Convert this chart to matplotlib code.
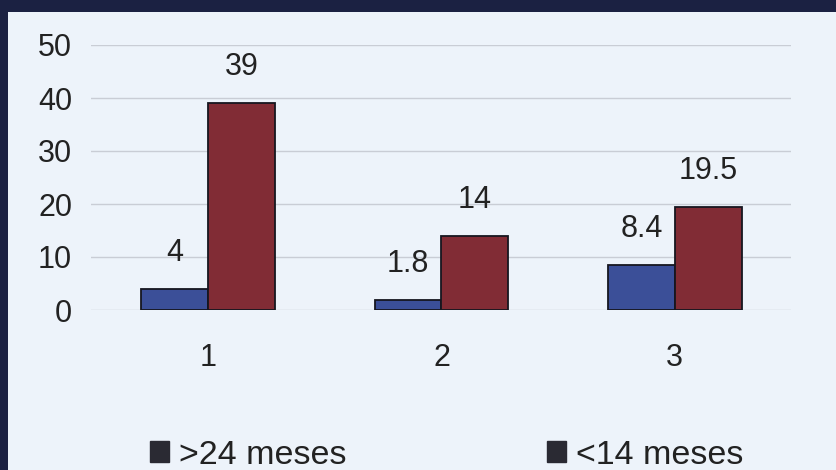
import matplotlib
matplotlib.use("Agg")
import matplotlib.pyplot as plt
from matplotlib.patches import Rectangle, Patch
import numpy as np

plt.rcParams['font.family'] = ['Liberation Sans', 'DejaVu Sans']

categories = ["1", "2", "3"]
series_names = [">24 meses", "<14 meses"]
over_24 = [4, 1.8, 8.4]
under_14 = [39, 14, 19.5]
value_labels_over = ["4", "1.8", "8.4"]
value_labels_under = ["39", "14", "19.5"]
y_ticks = [0, 10, 20, 30, 40, 50]

W, H, DPI = 837, 470, 100
fig = plt.figure(figsize=(W / DPI, H / DPI), dpi=DPI, facecolor="#1b2142")

# light slide panel inside the dark frame
panel = Rectangle((8 / W, 0), 1 - 8 / W, 1 - 12 / H, transform=fig.transFigure,
                  facecolor="#edf3fa", edgecolor="none", zorder=-10)
fig.patches.append(panel)

ax = fig.add_axes([91.5 / W, 160 / H, 700 / W, 265 / H])
ax.set_facecolor("none")
ax.set_zorder(1)

x = np.arange(1, len(categories) + 1)
bw = 0.287
blue = "#3b4f98"
red = "#812c35"
edge = "#16161f"

b1 = ax.bar(x - bw / 2, over_24, width=bw, color=blue, edgecolor=edge, linewidth=1.3, zorder=3)
b2 = ax.bar(x + bw / 2, under_14, width=bw, color=red, edgecolor=edge, linewidth=1.3, zorder=3)

for xi, v, t in zip(x - bw / 2, over_24, value_labels_over):
    ax.annotate(t, (xi, v), xytext=(0, 26), textcoords="offset points",
                ha="center", va="center", fontsize=22, color="#222222")
for xi, v, t in zip(x + bw / 2, under_14, value_labels_under):
    ax.annotate(t, (xi, v), xytext=(0, 26), textcoords="offset points",
                ha="center", va="center", fontsize=22, color="#222222")

ax.set_xlim(0.5, 3.5)
ax.set_ylim(0, 50)
ax.set_yticks(y_ticks)
ax.set_xticks(x)
ax.set_xticklabels(categories)
ax.tick_params(axis="both", length=0, labelsize=22, colors="#222222")
ax.tick_params(axis="x", pad=24)
ax.tick_params(axis="y", pad=14)
ax.yaxis.grid(True, color="#c9cdd5", linewidth=1.0, zorder=0)
ax.set_axisbelow(True)
for s in ax.spines.values():
    s.set_visible(False)

handles = [Patch(facecolor="#2a2a33", edgecolor="#2a2a33", label=n) for n in series_names]
fig.legend(handles=handles, loc="center", bbox_to_anchor=(447 / W, 1 - 455 / H),
           ncol=2, frameon=False, fontsize=24.5, handlelength=0.55, handleheight=0.6,
           handletextpad=0.3, columnspacing=5.9, labelcolor="#222222",
           borderpad=0, borderaxespad=0)

fig.savefig("out.png", dpi=DPI, facecolor=fig.get_facecolor())
